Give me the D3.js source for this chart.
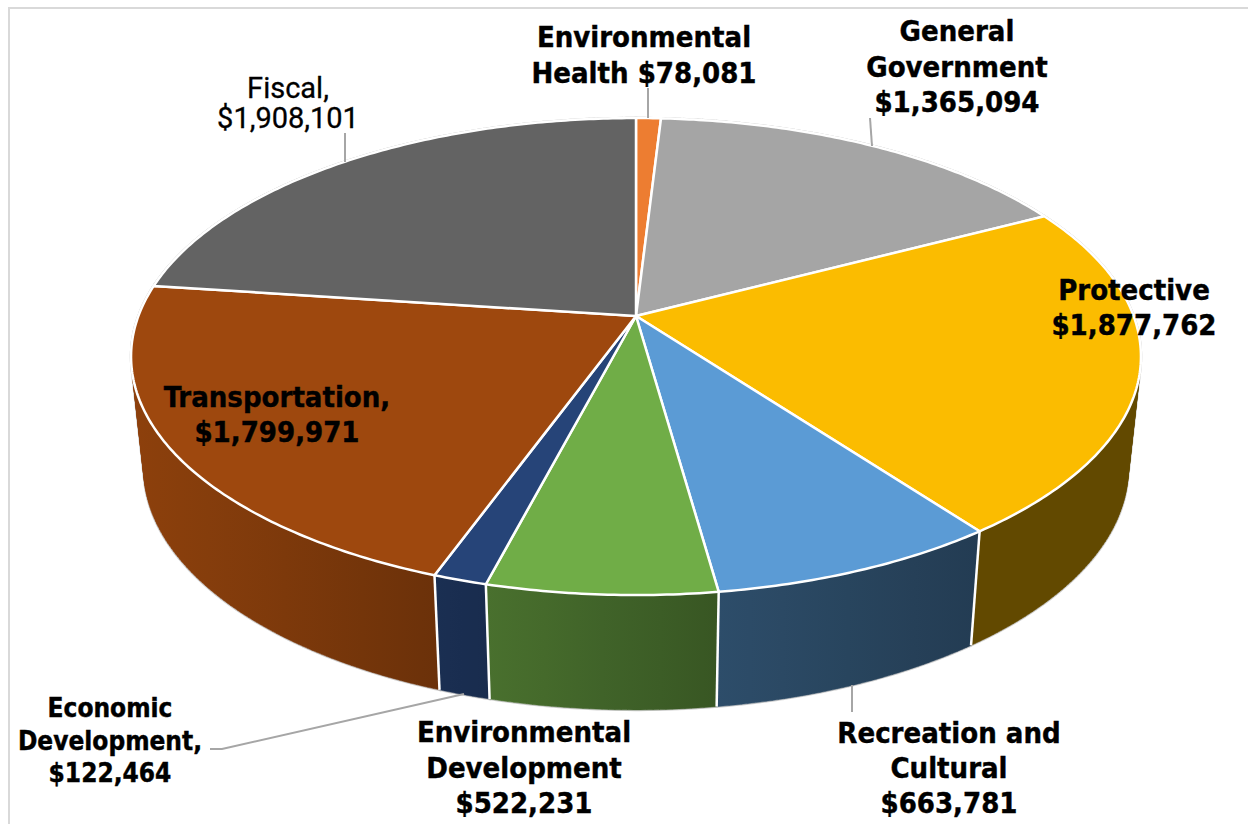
<!DOCTYPE html>
<html>
<head>
<meta charset="utf-8">
<script src="https://cdn.jsdelivr.net/npm/d3@7"></script>
<style>
  html, body { margin: 0; padding: 0; background: #fff; overflow: hidden; }
  text { text-anchor: middle; fill: #000; }
  .bold { font-family: "DejaVu Sans"; font-weight: bold; font-stretch: condensed; font-size: 29px; stroke: #000; stroke-width: 0.4px; }
  .small { font-size: 26px; }
  .plain { font-family: Roboto, sans-serif; font-weight: 400; font-size: 29px; stroke: #000; stroke-width: 0.3px; }
</style>
</head>
<body>
<div id="chart"></div>
<script>
var categories = ["Environmental Health", "General Government", "Protective", "Recreation and Cultural",
                  "Environmental Development", "Economic Development", "Transportation", "Fiscal"];
var values = [78081, 1365094, 1877762, 663781, 522231, 122464, 1799971, 1908101];
var colors = ["#ED7D31", "#A5A5A5", "#FBBC00", "#5B9BD5", "#70AD47", "#264478", "#9E480E", "#636363"];
var labelLines = [
  ["Environmental", "Health {v}"],
  ["General", "Government", "{v}"],
  ["Protective", "{v}"],
  ["Recreation and", "Cultural", "{v}"],
  ["Environmental", "Development", "{v}"],
  ["Economic", "Development,", "{v}"],
  ["Transportation,", "{v}"],
  ["Fiscal,", "{v}"]
];

var width = 1248, height = 824;

// label placement: centre x, first baseline, line step
var labelPos = [
  {x: 644, y: 47, dy: 35.5},
  {x: 957, y: 41, dy: 35.5},
  {x: 1134, y: 300, dy: 35},
  {x: 949, y: 743, dy: 35},
  {x: 524, y: 742, dy: 35.5},
  {x: 110, y: 717, dy: 32.5, cls: "small"},
  {x: 277, y: 407, dy: 35},
  {x: 288, y: 98, dy: 30, cls: "plain"}
];
var leaders = [
  [[648, 88], [648, 118]],
  [[870, 118], [872, 146]],
  null,
  [[852, 685], [852, 712]],
  null,
  [[210, 749], [222, 749], [464, 694]],
  null,
  [[345, 133], [345, 162]]
];

// perspective disc: u to the right, v to the back
var cx = 636, cy = 316, k = 0.17, scaleX = 497.6, scaleY = 231.6;
var depthX = 0.975, depthY = 1.012, depth = 111.5;

function topPoint(a) {
  var w = 1 + k * Math.cos(a);
  return [cx + scaleX * Math.sin(a) / w, cy - scaleY * Math.cos(a) / w];
}
function bottomPoint(a) {
  var p = topPoint(a);
  return [cx + (p[0] - cx) * depthX, cy + depth + (p[1] - cy) * depthY];
}
function arcAngles(a0, a1) {
  return d3.range(0, 1.0001, 1 / Math.max(2, Math.ceil((a1 - a0) * 90))).map(function(t) {
    return a0 + (a1 - a0) * t;
  });
}

var line = d3.line();
var pie = d3.pie().sort(null).value(function(d) { return d; });
var arcs = pie(values);

var svg = d3.select("#chart").append("svg")
    .attr("width", width)
    .attr("height", height)
    .style("display", "block");

svg.append("rect")
    .attr("x", 9).attr("y", 8)
    .attr("width", width + 20).attr("height", height + 20)
    .attr("fill", "#fff")
    .attr("stroke", "#d9d9d9")
    .attr("stroke-width", 2);

// wall shading falls off from left to right
var shade = d3.scaleLinear()
    .domain([143, 440, 716, 970, 1130])
    .range([0.89, 0.68, 0.5, 0.39, 0.39])
    .clamp(true);

var defs = svg.append("defs");

// each wall is a strip of quads, all wound the same way so they fill as a union
var walls = arcs.map(function(d, i) {
  var angles = arcAngles(d.startAngle, d.endAngle);
  var path = "", all = [];
  d3.pairs(angles).forEach(function(p) {
    var quad = [topPoint(p[0]), topPoint(p[1]), bottomPoint(p[1]), bottomPoint(p[0])];
    if (d3.polygonArea(quad) < 0) quad.reverse();
    path += line(quad) + "Z";
    all = all.concat(quad);
  });
  var xr = d3.extent(all, function(p) { return p[0]; });
  var base = d3.color(colors[i]);
  var grad = defs.append("linearGradient")
      .attr("id", "wall" + i)
      .attr("gradientUnits", "userSpaceOnUse")
      .attr("x1", xr[0]).attr("x2", xr[1]).attr("y1", 0).attr("y2", 0);
  [0, 0.25, 0.5, 0.75, 1].forEach(function(t) {
    var f = shade(xr[0] + (xr[1] - xr[0]) * t);
    grad.append("stop")
        .attr("offset", t)
        .attr("stop-color", d3.rgb(base.r * f, base.g * f, base.b * f));
  });
  return {i: i, path: path, y: d3.max(all, function(p) { return p[1]; })};
}).sort(function(a, b) { return a.y - b.y; });

var tops = arcs.map(function(d, i) {
  var pts = [[cx, cy]].concat(arcAngles(d.startAngle, d.endAngle).map(topPoint));
  return {i: i, path: line(pts) + "Z"};
});

// thin grey fringe under everything
svg.append("g").selectAll("path")
    .data(walls.concat(tops))
    .enter().append("path")
    .attr("d", function(d) { return d.path; })
    .attr("fill", "none")
    .attr("stroke", "#cfcfcf")
    .attr("stroke-width", 2.5);

svg.append("g").selectAll("path")
    .data(walls)
    .enter().append("path")
    .attr("d", function(d) { return d.path; })
    .attr("fill", function(d) { return "url(#wall" + d.i + ")"; })
    .attr("stroke", function(d) { return "url(#wall" + d.i + ")"; })
    .attr("stroke-width", 0.5);

// white seams between the walls
svg.append("g").selectAll("path")
    .data(arcs)
    .enter().append("path")
    .attr("d", function(d) { return line([topPoint(d.startAngle), bottomPoint(d.startAngle)]); })
    .attr("stroke", "#fff")
    .attr("stroke-width", 2.5);

svg.append("g").selectAll("path")
    .data(tops)
    .enter().append("path")
    .attr("d", function(d) { return d.path; })
    .attr("fill", function(d) { return colors[d.i]; })
    .attr("stroke", "#fff")
    .attr("stroke-width", 2.5)
    .attr("stroke-linejoin", "round");

svg.append("g").selectAll("path")
    .data(leaders.filter(Boolean))
    .enter().append("path")
    .attr("d", function(d) { return line(d); })
    .attr("fill", "none")
    .attr("stroke", "#a6a6a6")
    .attr("stroke-width", 2);

var money = d3.format("$,");
var labels = svg.append("g").selectAll("text")
    .data(labelLines)
    .enter().append("text")
    .attr("class", function(d, i) {
      var c = labelPos[i].cls;
      return c === "plain" ? "plain" : "bold" + (c ? " " + c : "");
    });

labels.selectAll("tspan")
    .data(function(d, i) {
      return d.map(function(s, j) {
        return {text: s.replace("{v}", money(values[i])), x: labelPos[i].x, y: labelPos[i].y + j * labelPos[i].dy};
      });
    })
    .enter().append("tspan")
    .attr("x", function(d) { return d.x; })
    .attr("y", function(d) { return d.y; })
    .text(function(d) { return d.text; });
</script>
</body>
</html>
